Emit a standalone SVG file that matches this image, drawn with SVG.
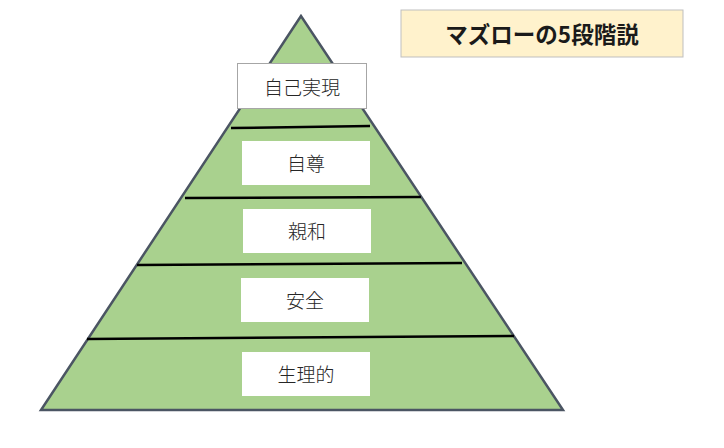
<svg xmlns="http://www.w3.org/2000/svg" width="724" height="448" viewBox="0 0 724 448">
<style>
.lbl{font-family:"Noto Sans CJK JP","Noto Sans CJK SC",sans-serif;font-size:19px;font-weight:300;fill:#262626;text-anchor:middle;dominant-baseline:central}
.box{fill:#ffffff}
.div{stroke:#000000;stroke-width:2.5;fill:none}
</style>
<rect width="724" height="448" fill="#ffffff"/>
<g id="pyramid">
<polygon points="301,16 41,410 563,410" fill="#a9d18e" stroke="#4b5563" stroke-width="2.5" stroke-linejoin="miter"/>
</g>
<g id="connectors">
<line class="div" x1="231" y1="128" x2="370" y2="126"/>
<line class="div" x1="185" y1="198" x2="421" y2="197"/>
<line class="div" x1="137" y1="265" x2="462" y2="263"/>
<line class="div" x1="87" y1="339" x2="514" y2="336"/>
</g>
<g id="title">
<rect x="401" y="10" width="282" height="47" fill="#fff2cc" stroke="#bfbfbf" stroke-width="1"/>
<text x="542" y="33" style="font-family:'Noto Sans CJK JP','Noto Sans CJK SC',sans-serif;font-size:22.5px;font-weight:bold;fill:#1a1a1a;text-anchor:middle;dominant-baseline:central">マズローの5段階説</text>
</g>
<g id="self-actualization">
<rect class="box" x="237.5" y="63.5" width="129" height="45" stroke="#a6a6a6" stroke-width="1"/>
<text class="lbl" x="302" y="86">自己実現</text>
</g>
<g id="esteem">
<rect class="box" x="242" y="141" width="128" height="44"/>
<text class="lbl" x="306" y="162">自尊</text>
</g>
<g id="belonging">
<rect class="box" x="243" y="209" width="128" height="44"/>
<text class="lbl" x="307" y="230">親和</text>
</g>
<g id="safety">
<rect class="box" x="241" y="278" width="128" height="44"/>
<text class="lbl" x="305" y="299">安全</text>
</g>
<g id="physiological">
<rect class="box" x="242" y="352" width="128" height="44"/>
<text class="lbl" x="306" y="373">生理的</text>
</g>
</svg>
